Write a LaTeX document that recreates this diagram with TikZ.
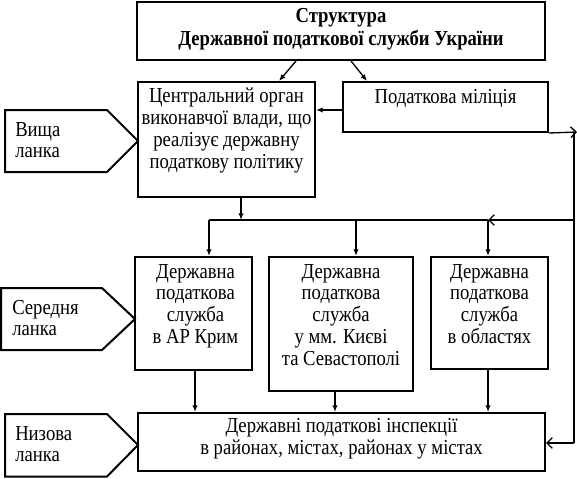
\documentclass[tikz,border=0pt]{standalone}
\usepackage{fontspec}
\setmainfont{Liberation Serif}[FakeStretch=0.875]
\usetikzlibrary{arrows.meta,calc,fit}
\tikzset{
  box/.style={draw, line width=1.5pt, inner sep=0pt},
  txt/.style={font=\fontsize{16}{16.3}\selectfont, align=center, inner sep=0pt},
  lvltxt/.style={font=\fontsize{16}{16.3}\selectfont, align=left, inner sep=0pt, anchor=west},
  lvl/.style={draw, line width=1.5pt, line join=miter},
  wire/.style={line width=1pt},
  con/.style={line width=1pt, -{Latex[length=5pt,width=4pt]}},
  fb/.style={line width=1pt, -{Straight Barb[length=4pt,width=8pt]}}
}
\begin{document}
\begin{tikzpicture}[x=0.75pt,y=-0.75pt]
\useasboundingbox (0,0) rectangle (577,478);
% boxes
\node[box, fit={(137,2) (545,60)}] (top) {};
\node[box, fit={(138,82) (315,197)}] (c) {};
\node[box, fit={(343,82) (548,132)}] (m) {};
\node[box, fit={(135,257) (252,370)}] (b1) {};
\node[box, fit={(269,257) (413,391)}] (b2) {};
\node[box, fit={(431,257) (548,369)}] (b3) {};
\node[box, fit={(138,413) (545,471)}] (bot) {};
% texts in boxes
\node[txt, font=\fontsize{16}{17.3}\selectfont\bfseries] (toptxt) at ($(top.center)+(0,-2)$) {Структура\\Державної податкової служби України};
\node[txt, anchor=north] (ctxt) at ($(c.north)+(0,7)$) {Центральний орган\\виконавчої влади, що\\реалізує державну\\податкову політику};
\node[txt, anchor=north] (mtxt) at ($(m.north)+(0,8)$) {Податкова міліція};
\node[txt, anchor=north] (b1txt) at ($(b1.north)+(2,8)$) {Державна\\податкова\\служба\\в АР Крим};
\node[txt, anchor=north] (b2txt) at ($(b2.north)+(0,8)$) {Державна\\податкова\\служба\\у мм. Києві\\та Севастополі};
\node[txt, anchor=north] (b3txt) at ($(b3.north)+(0,8)$) {Державна\\податкова\\служба\\в областях};
\node[txt] (bottxt) at ($(bot.center)+(0,-3)$) {Державні податкові інспекції\\в районах, містах, районах у містах};
% level markers
\draw[lvl] (5,110) -- (107,110) -- (138,141) -- (107,172) -- (5,172) -- cycle;
\draw[lvl] (1,288) -- (102,288) -- (135,319) -- (102,350) -- (1,350) -- cycle;
\draw[lvl] (5,414) -- (107,414) -- (138,445) -- (107,476.5) -- (5,476.5) -- cycle;
\node[lvltxt] (l1) at (15,140) {Вища\\ланка};
\node[lvltxt] (l2) at (12,318) {Середня\\ланка};
\node[lvltxt] (l3) at (15,444) {Низова\\ланка};
% coordinates
\coordinate (jL) at (209,220);
\coordinate (j2) at (356,220);
\coordinate (j3) at (488,220);
\coordinate (rv1) at (574,132);
\coordinate (rv2) at (574,220);
\coordinate (rv3) at (574,443);
\coordinate (rtip) at (577,132);
% connectors
\draw[con] ($(top.south west)+(160,0)$) -- ($(c.north west)+(142,0)$);
\draw[con] ($(top.south west)+(215,0)$) -- ($(m.north west)+(25,0)$);
\draw[con] ($(m.west)+(0,3)$) coordinate (mw) -- (mw -| c.east);
\draw[con] ($(c.south)+(14.5,0)$) coordinate (cs) -- (cs |- jL);
\draw[wire] (jL) -- (j3);
\draw[con] (jL) -- (jL |- b1.north);
\draw[con] (j2) -- (j2 |- b2.north);
\draw[con] (j3) -- (j3 |- b3.north);
\draw[con] ($(b1.south)+(1.5,0)$) coordinate (s1) -- (s1 |- bot.north);
\draw[con] ($(b2.south)+(-6,0)$) coordinate (s2) -- (s2 |- bot.north);
\draw[con] ($(b3.south)+(-1.5,0)$) coordinate (s3) -- (s3 |- bot.north);
\draw[fb] (m.south east) -- (rtip);
\draw[wire] (rv1) -- (rv3);
\draw[fb] (rv2) -- (j3);
\draw[fb] (rv3) -- (rv3 -| bot.east);
\end{tikzpicture}
\end{document}
